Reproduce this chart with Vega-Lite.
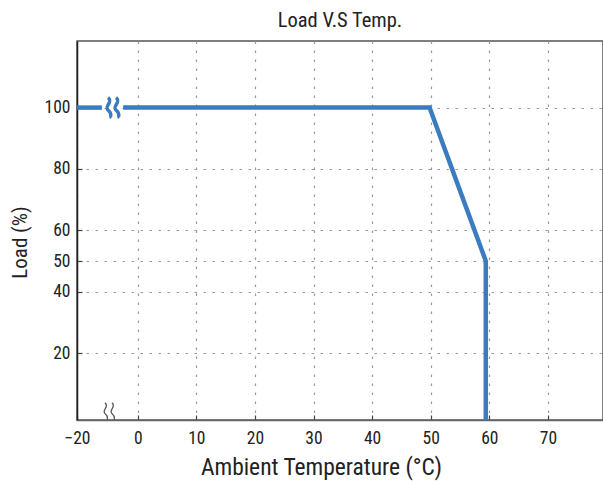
{
  "$schema": "https://vega.github.io/schema/vega-lite/v6.json",
  "width": 526,
  "height": 379,
  "autosize": {"type": "none"},
  "padding": {"left": 77, "top": 41, "right": 0, "bottom": 65},
  "background": "white",
  "title": {"text": "Load V.S Temp.", "font": "Roboto Condensed, Roboto", "fontSize": 20.5, "fontWeight": "normal", "color": "#222", "offset": 10},
  "config": {
    "view": {"stroke": "#555", "strokeWidth": 1.5},
    "axis": {
      "labelFont": "Roboto Condensed, Roboto", "labelFontSize": 17.5, "labelColor": "#222",
      "titleFont": "Roboto Condensed, Roboto", "titleFontSize": 23.5, "titleFontWeight": "normal", "titleColor": "#222",
      "grid": true, "gridColor": "#999", "gridDash": [2.5, 6.5], "gridWidth": 1.2,
      "tickColor": "#444", "tickSize": -5, "tickWidth": 1.2, "labelFlush": false
    }
  },
  "datasets": {
    "curve": [
      {"temp": -20, "load": 100, "seg": "a"},
      {"temp": -11.8, "load": 100, "seg": "a"},
      {"temp": -4.8, "load": 100, "seg": "b"},
      {"temp": 49.8, "load": 100, "seg": "b"},
      {"temp": 59.4, "load": 50, "seg": "b"},
      {"temp": 59.4, "load": -1.8, "seg": "b"}
    ],
    "breaks": [
      {"temp": -8.3, "load": 100, "kind": "line"},
      {"temp": -9.5, "load": 1, "kind": "axis"}
    ]
  },
  "encoding": {
    "x": {
      "field": "temp", "type": "quantitative",
      "scale": {"domain": [-20, 0, 79.4], "range": [0, 60.7, 526], "nice": false, "zero": false},
      "axis": {"values": [-20, 0, 10, 20, 30, 40, 50, 60, 70], "title": "Ambient Temperature (°C)", "titlePadding": 9, "titleX": 244, "labelPadding": 14, "domainColor": "#666", "domainWidth": 1.5}
    },
    "y": {
      "field": "load", "type": "quantitative",
      "scale": {"domain": [-1.8, 121.7], "nice": false, "zero": false},
      "axis": {"values": [20, 40, 50, 60, 80, 100], "title": "Load (%)", "titleFontSize": 21, "titlePadding": 14, "titleY": 201, "labelPadding": 12, "domainColor": "#222", "domainWidth": 1.5}
    }
  },
  "layer": [
    {
      "data": {"name": "curve"},
      "mark": {"type": "line", "color": "#3b7bbf", "strokeWidth": 4.5, "clip": true},
      "encoding": {"detail": {"field": "seg"}}
    },
    {
      "data": {"name": "breaks"},
      "transform": [{"filter": "datum.kind === 'line'"}],
      "mark": {"type": "point", "shape": "M-0.45,-1 C0.15,-0.55 -0.95,-0.1 -0.4,0.3 C0,0.6 -0.3,0.85 -0.1,1 M0.35,-1 C0.95,-0.55 -0.15,-0.1 0.4,0.3 C0.8,0.6 0.5,0.85 0.7,1", "filled": false, "stroke": "#3b7bbf", "strokeWidth": 3.5, "size": 400, "opacity": 1}
    },
    {
      "data": {"name": "breaks"},
      "transform": [{"filter": "datum.kind === 'axis'"}],
      "mark": {"type": "point", "shape": "M-0.45,-1 C0.15,-0.55 -0.95,-0.1 -0.4,0.3 C0,0.6 -0.3,0.85 -0.1,1 M0.35,-1 C0.95,-0.55 -0.15,-0.1 0.4,0.3 C0.8,0.6 0.5,0.85 0.7,1", "filled": false, "stroke": "#555", "strokeWidth": 1.3, "size": 300, "opacity": 1}
    }
  ]
}
